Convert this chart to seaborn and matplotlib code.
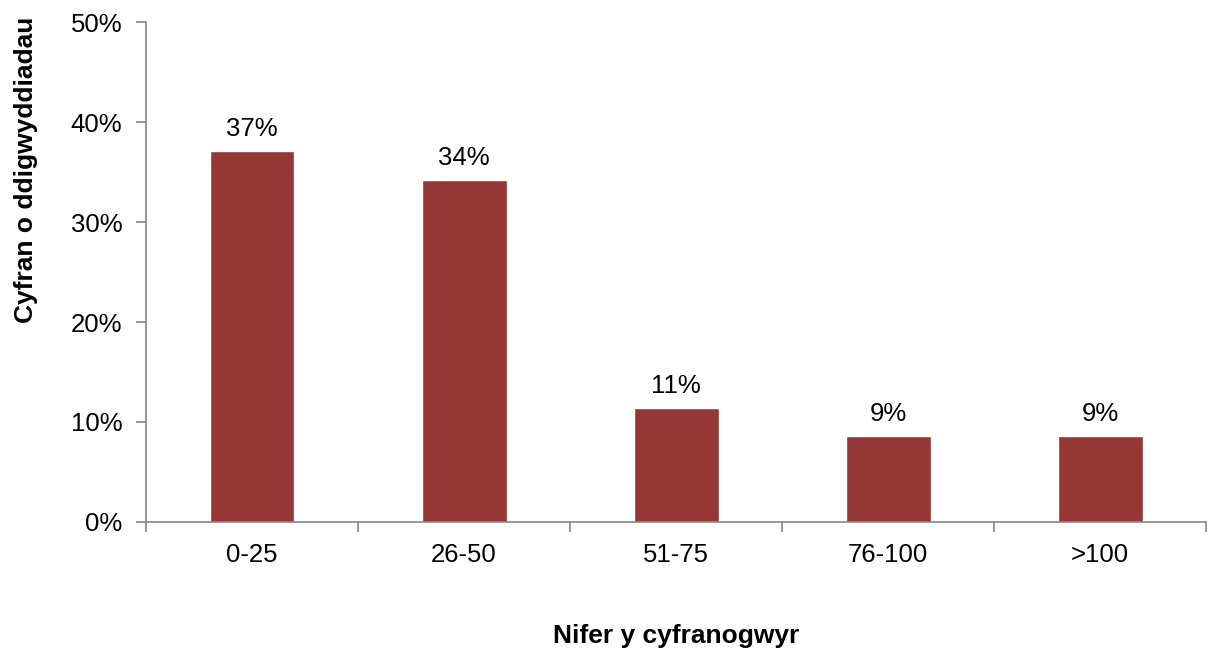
import numpy as np
import pandas as pd
import matplotlib
matplotlib.use("Agg")
import matplotlib.pyplot as plt
import seaborn as sns

# data
categories = ["0-25", "26-50", "51-75", "76-100", ">100"]
values = [37.1, 34.2, 11.4, 8.6, 8.6]
labels = ["37%", "34%", "11%", "9%", "9%"]

df = pd.DataFrame({"cat": categories, "val": values})

sns.set_style("white")
plt.rcParams["font.family"] = ["Liberation Sans", "DejaVu Sans"]
plt.rcParams["text.color"] = "black"
plt.rcParams["axes.labelcolor"] = "black"
plt.rcParams["xtick.labelcolor"] = "black"
plt.rcParams["ytick.labelcolor"] = "black"

fig = plt.figure(figsize=(12.13, 6.5), dpi=100)
ax = fig.add_axes([0.1204, 0.197, 0.874, 0.769])

sns.barplot(data=df, x="cat", y="val", color="#953735", width=0.4,
            saturation=1, ax=ax)

ax.set_xlim(-0.5, 4.5)
ax.set_ylim(0, 50)
ax.set_yticks(np.arange(0, 51, 10))
ax.set_yticklabels([f"{v}%" for v in range(0, 51, 10)], fontsize=18.5)
ax.set_xticks(range(len(categories)))
ax.set_xticklabels(categories, fontsize=18.5)
ax.set_xticks(np.arange(-0.5, 5, 1), minor=True)
ax.tick_params(axis="x", which="major", bottom=True, length=0, pad=15)
ax.tick_params(axis="x", which="minor", bottom=True, length=7, width=1.2,
               color="#868686", direction="out")
ax.tick_params(axis="y", left=True, length=7, width=1.2, color="#868686",
               direction="out", pad=10)

for i, (v, t) in enumerate(zip(values, labels)):
    ax.text(i, v + 1.0, t, ha="center", va="bottom", fontsize=18.5)

for s in ["top", "right"]:
    ax.spines[s].set_visible(False)
for s in ["left", "bottom"]:
    ax.spines[s].set_color("#868686")
    ax.spines[s].set_linewidth(1.2)

ax.set_xlabel("Nifer y cyfranogwyr", fontsize=19, fontweight="bold", labelpad=41)
ax.set_ylabel("Cyfran o ddigwyddiadau", fontsize=19, fontweight="bold")
ax.yaxis.set_label_coords(-0.102, 0.704)

fig.savefig("out.png", dpi=100)
